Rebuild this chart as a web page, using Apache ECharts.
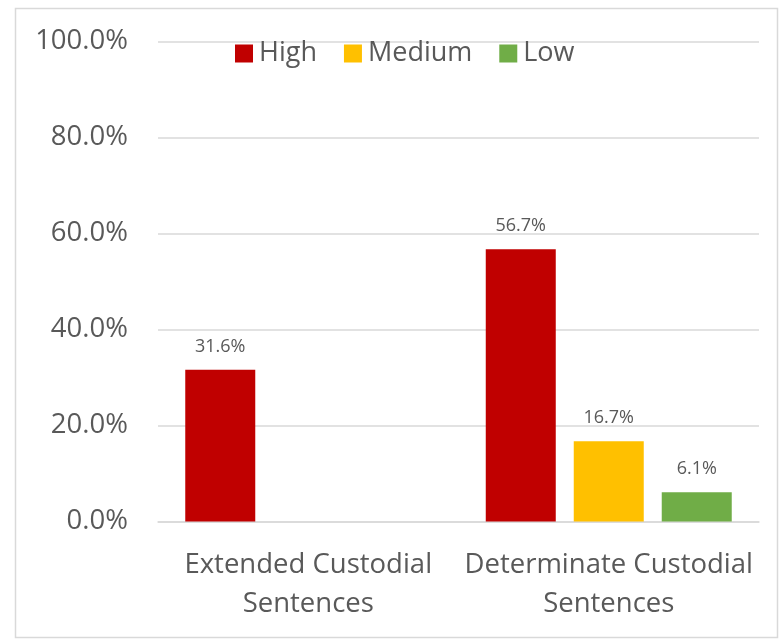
<!DOCTYPE html>
<html>
<head>
<meta charset="utf-8">
<style>
  html, body { margin: 0; padding: 0; background: #fff; }
  #chart { width: 781px; height: 642px; }
</style>
<script src="https://cdn.jsdelivr.net/npm/echarts@6/dist/echarts.min.js"></script>
</head>
<body>
<div id="chart"></div>
<script>
// Risk-level shares by sentence type
const categories = ['Extended Custodial\nSentences', 'Determinate Custodial\nSentences'];
const highValues = [31.6, 56.7];
const mediumValues = [null, 16.7];
const lowValues = [null, 6.1];
const yTicks = [0, 20, 40, 60, 80, 100];

const FONT = '"Open Sans", "Noto Sans", sans-serif';
const TEXT = '#595959';

function barSeries(name, data, color) {
  return {
    name: name,
    type: 'bar',
    data: data,
    barWidth: 70,
    barGap: '25.7%',
    itemStyle: { color: color },
    label: {
      show: true,
      position: 'top',
      distance: 14,
      color: TEXT,
      fontFamily: FONT,
      fontSize: 18,
      formatter: p => p.value == null ? '' : p.value.toFixed(1) + '%'
    }
  };
}

const chart = echarts.init(document.getElementById('chart'), null, { renderer: 'canvas' });
chart.setOption({
  animation: false,
  backgroundColor: '#fff',
  graphic: [{
    type: 'rect',
    shape: { x: 15.5, y: 8.5, width: 762, height: 629 },
    style: { fill: 'none', stroke: '#d9d9d9', lineWidth: 1.5 },
    silent: true
  }],
  legend: {
    left: 230,
    top: 35,
    itemWidth: 18,
    itemHeight: 18,
    itemGap: 27,
    icon: 'rect',
    textStyle: { color: TEXT, fontFamily: FONT, fontSize: 27, padding: [0, 0, 0, 1] },
    data: ['High', 'Medium', 'Low']
  },
  grid: { left: 158, right: 22, top: 41.5, bottom: 120.5, containLabel: false },
  xAxis: {
    type: 'category',
    data: categories,
    axisLine: { show: true, lineStyle: { color: '#d9d9d9', width: 1.5 } },
    axisTick: { show: false },
    axisLabel: {
      color: TEXT,
      fontFamily: FONT,
      fontSize: 27.5,
      lineHeight: 39,
      margin: 24,
      interval: 0
    }
  },
  yAxis: {
    type: 'value',
    min: yTicks[0],
    max: yTicks[yTicks.length - 1],
    interval: 20,
    axisLine: { show: false },
    axisTick: { show: false },
    splitLine: { lineStyle: { color: '#d9d9d9', width: 1.5 } },
    axisLabel: {
      color: TEXT,
      fontFamily: FONT,
      fontSize: 27.5,
      margin: 30,
      formatter: v => v.toFixed(1) + '%'
    }
  },
  series: [
    barSeries('High', highValues, '#C00000'),
    barSeries('Medium', mediumValues, '#FFC000'),
    barSeries('Low', lowValues, '#70AD47')
  ]
});
</script>
</body>
</html>
